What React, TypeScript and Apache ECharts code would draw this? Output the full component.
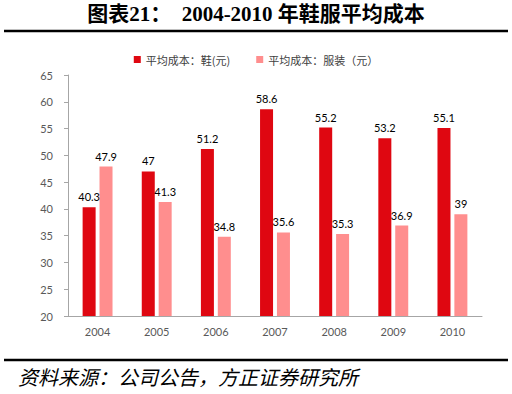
import React, { useEffect, useRef } from "react";
import * as echarts from "echarts";

const years = ["2004", "2005", "2006", "2007", "2008", "2009", "2010"];
const shoeCost = [40.3, 47, 51.2, 58.6, 55.2, 53.2, 55.1];
const apparelCost = [47.9, 41.3, 34.8, 35.6, 35.3, 36.9, 39];
const seriesNames = ["平均成本：鞋(元)", "平均成本：服装（元）"];
const titleText = "图表21：  2004-2010 年鞋服平均成本";
const sourceText = "资料来源：公司公告，方正证券研究所";

export default function App() {
  const ref = useRef<HTMLDivElement>(null);
  useEffect(() => {
    if (!ref.current) return;
    const chart = echarts.init(ref.current, null, { renderer: "svg" });
    const labelFont = "Lato, 'Noto Sans CJK SC', sans-serif";
    chart.setOption({
      animation: false,
      backgroundColor: "#ffffff",
      legend: {
        top: 49,
        left: "center",
        icon: "rect",
        itemWidth: 7,
        itemHeight: 7,
        itemGap: 26,
        textStyle: { fontSize: 11, color: "#404040", fontFamily: "'Noto Sans CJK SC', sans-serif" },
        data: seriesNames,
      },
      grid: { left: 68, right: 30, top: 75, bottom: 78 },
      xAxis: {
        type: "category",
        data: years,
        axisLine: { lineStyle: { color: "#A6A6A6" } },
        axisTick: { show: false },
        axisLabel: { color: "#595959", fontSize: 11, fontFamily: labelFont, margin: 10 },
      },
      yAxis: {
        type: "value",
        min: 20,
        max: 65,
        interval: 5,
        axisLine: { show: true, lineStyle: { color: "#A6A6A6" } },
        axisTick: { show: true, length: 4, lineStyle: { color: "#A6A6A6" } },
        splitLine: { show: false },
        axisLabel: { color: "#595959", fontSize: 11, fontFamily: labelFont, margin: 15 },
      },
      series: [
        {
          name: seriesNames[0],
          type: "bar",
          data: shoeCost,
          barWidth: 13,
          barGap: "30%",
          itemStyle: { color: "#DF0711" },
          label: { show: true, position: "top", color: "#000", fontSize: 11, fontFamily: labelFont },
        },
        {
          name: seriesNames[1],
          type: "bar",
          data: apparelCost,
          barWidth: 13,
          itemStyle: { color: "#FF8E8E" },
          label: { show: true, position: "top", color: "#000", fontSize: 11, fontFamily: labelFont },
        },
      ],
      graphic: [
        {
          type: "text",
          left: "center",
          top: 3,
          style: {
            text: titleText,
            fontSize: 21,
            fontWeight: "bold",
            fill: "#000",
            fontFamily: "'Liberation Serif', 'Noto Sans CJK SC', serif",
          },
        },
        {
          type: "line",
          shape: { x1: 4, y1: 31, x2: 508, y2: 31 },
          style: { stroke: "#000", lineWidth: 2.5 },
        },
        {
          type: "line",
          shape: { x1: 4, y1: 360, x2: 508, y2: 360 },
          style: { stroke: "#000", lineWidth: 2.5 },
        },
        {
          type: "text",
          left: 18,
          top: 366,
          style: {
            text: sourceText,
            fontSize: 20,
            fontStyle: "italic",
            fill: "#000",
            fontFamily: "'Noto Sans CJK SC', sans-serif",
          },
        },
      ],
    });
    return () => chart.dispose();
  }, []);
  return (
    <div
      ref={ref}
      style={{ position: "fixed", left: 0, top: 0, width: 512, height: 394 }}
    />
  );
}
